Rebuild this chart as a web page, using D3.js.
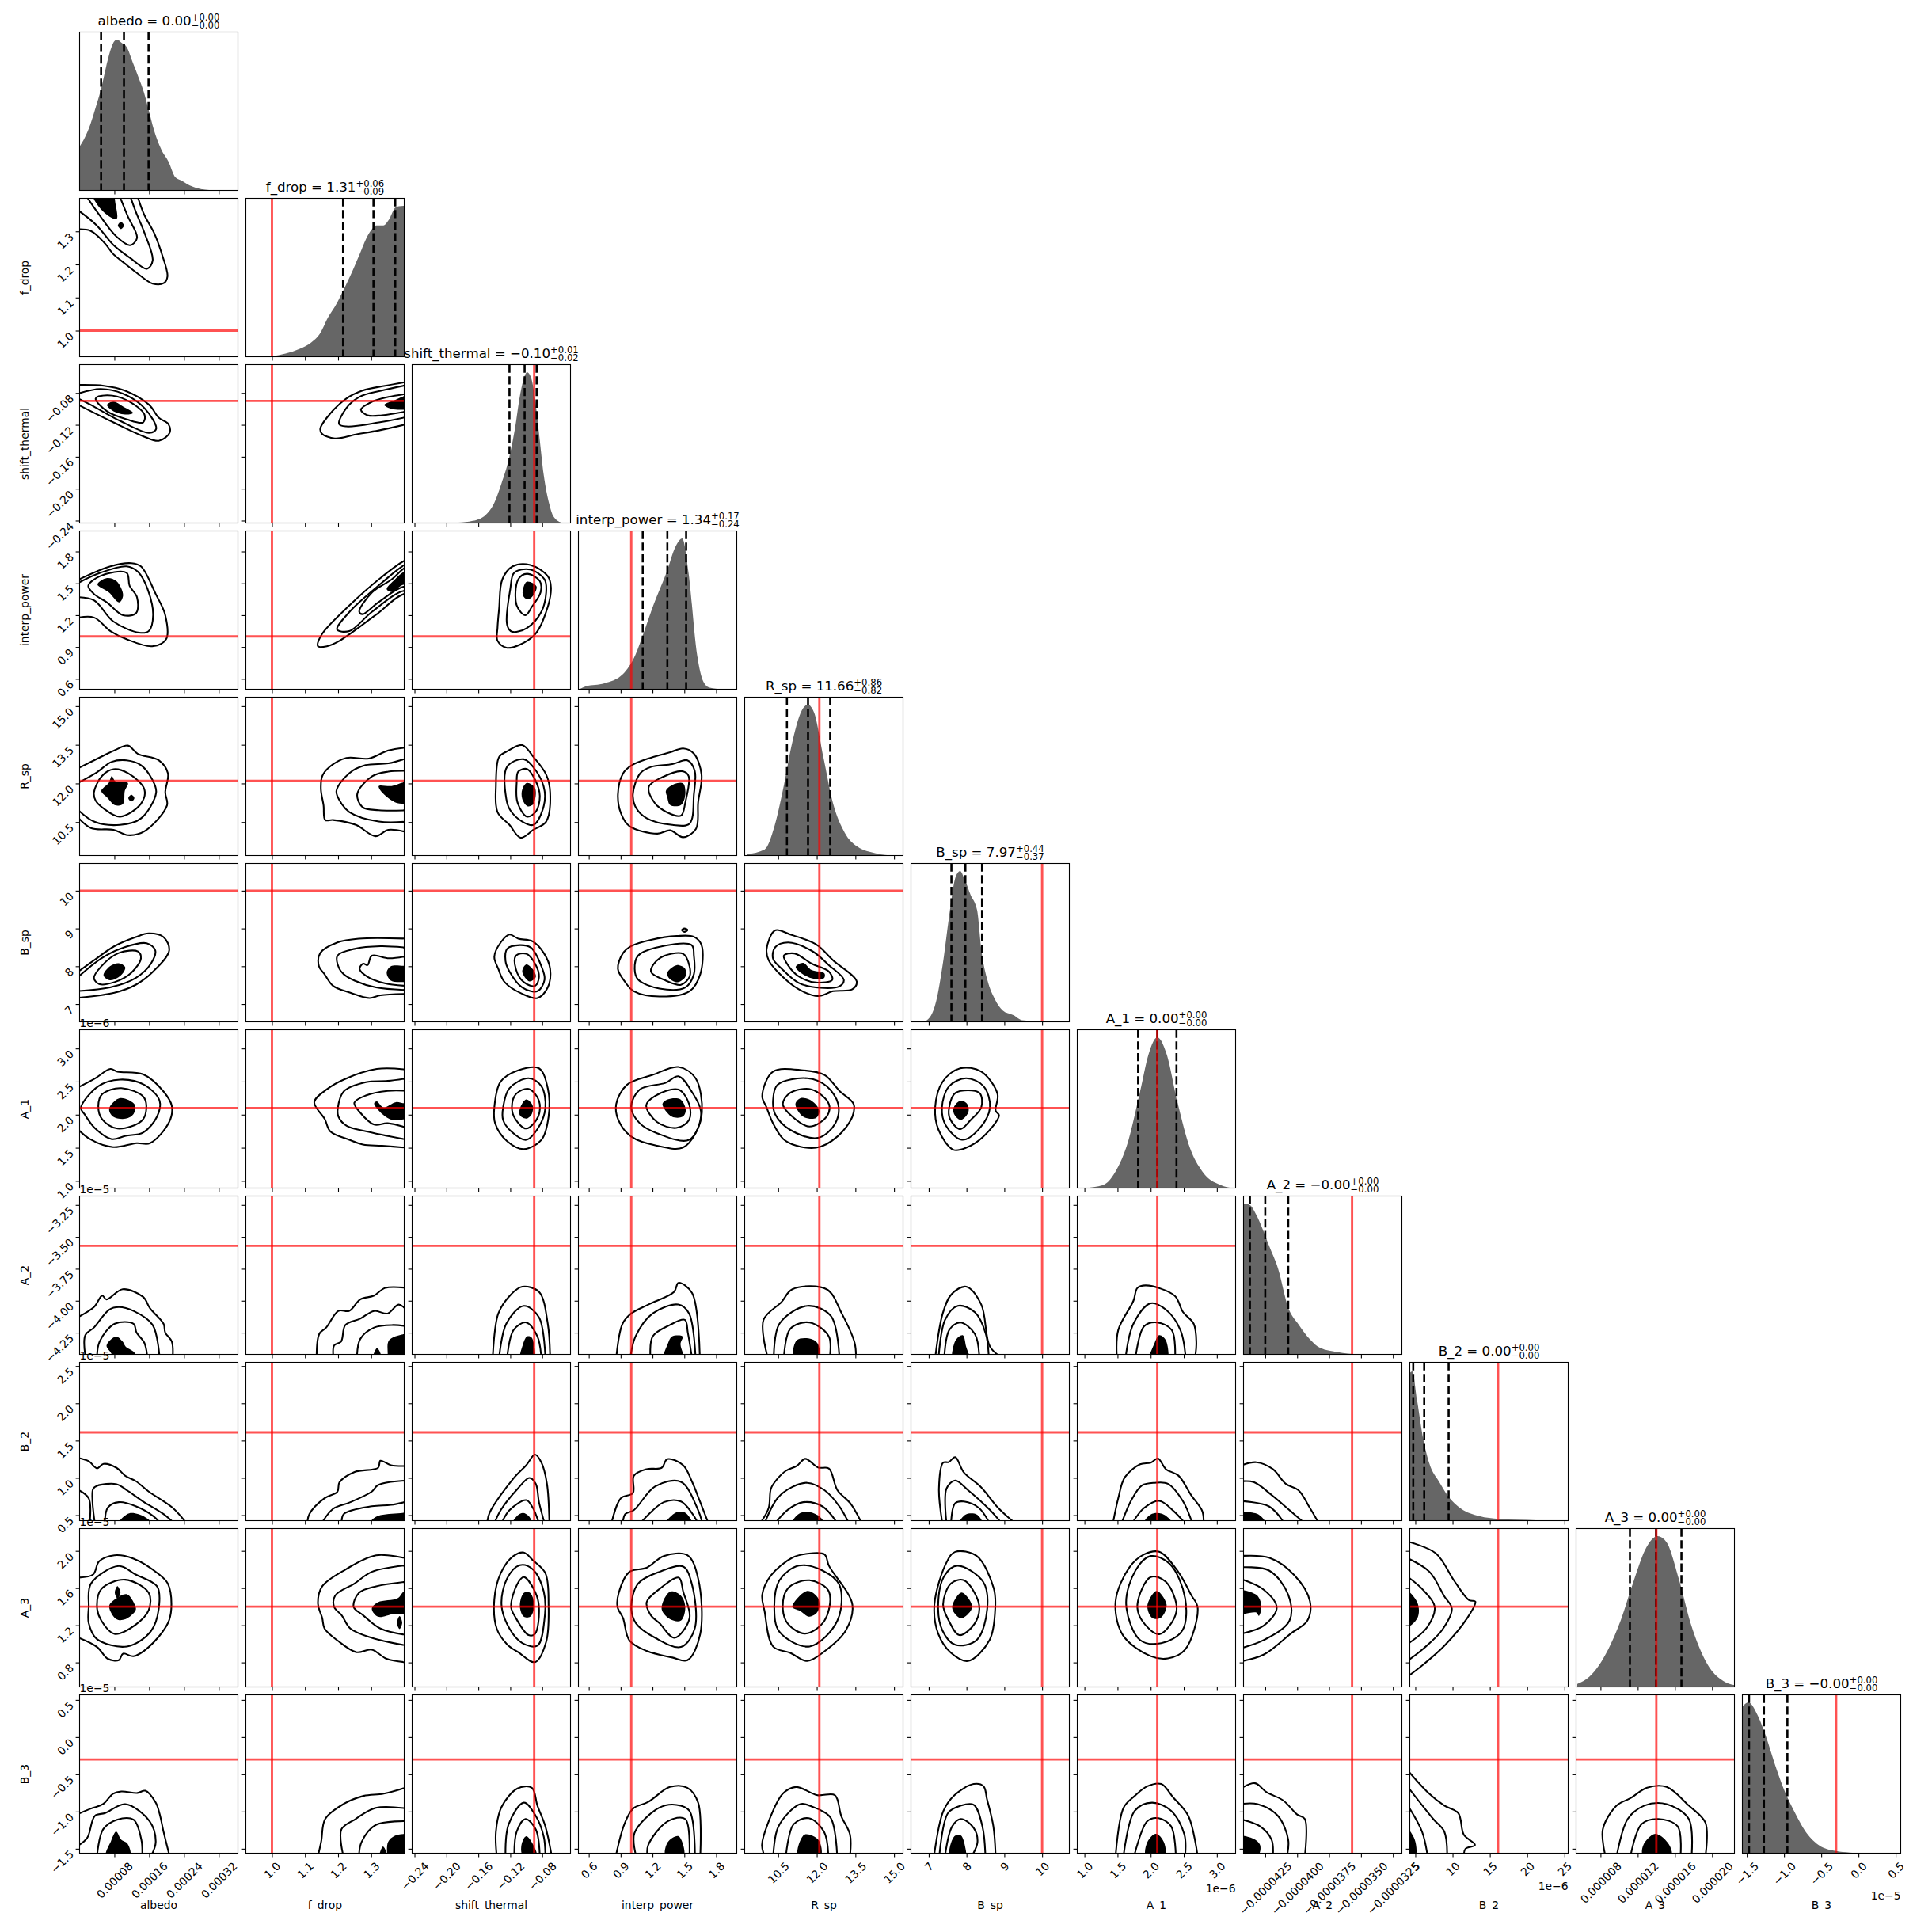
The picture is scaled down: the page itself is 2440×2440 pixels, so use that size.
<!DOCTYPE html>
<html>
<head>
<meta charset="utf-8">
<script src="https://cdn.jsdelivr.net/npm/d3@7"></script>
<style>
  body { margin: 0; background: #fff; }
  text { font-family: "DejaVu Sans", sans-serif; fill: #000; }
</style>
</head>
<body>
<script>
// units: albedo 1e-5, A_1 1e-6, A_2 1e-5, B_2 1e-6, A_3 1e-6, B_3 1e-5
const names = ["albedo", "f_drop", "shift_thermal", "interp_power", "R_sp", "B_sp", "A_1", "A_2", "B_2", "A_3", "B_3"];
const axisLo = [0, 0.921, -0.243, 0.502, 9.2, 6.53, 0.891, -4.42, 4.26, 5.37, -1.56];
const axisHi = [36.4, 1.4, -0.0445, 1.994, 15.35, 10.72, 3.283, -3.18, 25.5, 22.4, 0.568];
const truth = [null, 1.0, -0.09, 1.0, 12.1, 10, 2.1, -3.57, 16.1, 14, -0.3];

const tickVals = [
  [8, 16, 24, 32], [1.0, 1.1, 1.2, 1.3], [-0.24, -0.2, -0.16, -0.12, -0.08], [0.6, 0.9, 1.2, 1.5, 1.8],
  [10.5, 12, 13.5, 15], [7, 8, 9, 10], [1, 1.5, 2, 2.5, 3], [-4.25, -4, -3.75, -3.5, -3.25],
  [5, 10, 15, 20, 25], [8, 12, 16, 20], [-1.5, -1, -0.5, 0, 0.5]
];
const xTickText = [
  ["0.00008", "0.00016", "0.00024", "0.00032"], ["1.0", "1.1", "1.2", "1.3"],
  ["−0.24", "−0.20", "−0.16", "−0.12", "−0.08"], ["0.6", "0.9", "1.2", "1.5", "1.8"],
  ["10.5", "12.0", "13.5", "15.0"], ["7", "8", "9", "10"], ["1.0", "1.5", "2.0", "2.5", "3.0"],
  ["−0.0000425", "−0.0000400", "−0.0000375", "−0.0000350", "−0.0000325"],
  ["5", "10", "15", "20", "25"], ["0.000008", "0.000012", "0.000016", "0.000020"],
  ["−1.5", "−1.0", "−0.5", "0.0", "0.5"]
];
const yTickText = [
  [], ["1.0", "1.1", "1.2", "1.3"], ["−0.24", "−0.20", "−0.16", "−0.12", "−0.08"], ["0.6", "0.9", "1.2", "1.5", "1.8"],
  ["10.5", "12.0", "13.5", "15.0"], ["7", "8", "9", "10"], ["1.0", "1.5", "2.0", "2.5", "3.0"],
  ["−4.25", "−4.00", "−3.75", "−3.50", "−3.25"], ["0.5", "1.0", "1.5", "2.0", "2.5"],
  ["0.8", "1.2", "1.6", "2.0"], ["−1.5", "−1.0", "−0.5", "0.0", "0.5"]
];
const titleMain = ["albedo = 0.00", "f_drop = 1.31", "shift_thermal = −0.10", "interp_power = 1.34", "R_sp = 11.66", "B_sp = 7.97", "A_1 = 0.00", "A_2 = −0.00", "B_2 = 0.00", "A_3 = 0.00", "B_3 = −0.00"];
const titleUp = ["+0.00", "+0.06", "+0.01", "+0.17", "+0.86", "+0.44", "+0.00", "+0.00", "+0.00", "+0.00", "+0.00"];
const titleDown = ["−0.00", "−0.09", "−0.02", "−0.24", "−0.82", "−0.37", "−0.00", "−0.00", "−0.00", "−0.00", "−0.00"];

// quantile lines on the diagonal
const quantiles = [
  [4.94, 10.2, 15.86], [1.215, 1.307, 1.373], [-0.121, -0.102, -0.087], [1.108, 1.34, 1.517],
  [10.84, 11.66, 12.52], [7.6, 7.97, 8.41], [1.81, 2.1, 2.39], [-4.37, -4.25, -4.07],
  [4.72, 6.19, 9.47], [11.16, 13.97, 16.7], [-1.47, -1.27, -0.955]
];

// marginal density: value, height relative to the peak
const histAlbedo = [0,.29,1.2,.35,2.5,.44,3.8,.56,5,.68,6.1,.82,7.4,.955,8,.99,8.7,1,9.6,.98,10.9,.947,12.2,.85,13.5,.754,14.8,.65,15.8,.544,17.1,.4,18.8,.27,20.4,.193,22,.088,23.3,.067,25.9,.026,27.9,.009,29.8,.002,32.4,0];
const histFdrop = [.99,0,.999,.003,1.041,.021,1.084,.052,1.118,.093,1.144,.149,1.17,.262,1.195,.35,1.215,.437,1.238,.542,1.264,.673,1.29,.804,1.307,.857,1.315,.87,1.337,.87,1.354,.909,1.373,.988,1.384,.997,1.401,1];
const histShift = [-.185,.002,-.167,.014,-.151,.053,-.141,.123,-.131,.263,-.122,.42,-.114,.63,-.108,.84,-.102,.974,-.099,1,-.094,.965,-.089,.825,-.084,.596,-.078,.316,-.071,.123,-.066,.044,-.056,.002];
const histInterp = [.51,0,.572,.02,.747,.04,.92,.1,1.04,.23,1.12,.38,1.21,.56,1.33,.77,1.42,.95,1.48,1,1.54,.77,1.62,.23,1.68,.05,1.74,.01,1.85,0];
const histRsp = [9.3,.01,9.97,.04,10.35,.19,10.69,.44,11.02,.73,11.41,.96,11.65,1,11.89,.95,12.27,.64,12.61,.36,13.09,.15,13.57,.06,14.29,.015,15,0];
const histBsp = [6.86,0,7.03,.03,7.2,.14,7.37,.38,7.54,.7,7.71,.96,7.83,1,7.94,.95,8.11,.84,8.28,.74,8.39,.48,8.56,.27,8.73,.16,8.96,.075,9.25,.043,9.47,.01,9.7,.006,9.93,0];
const histA1 = [1,0,1.28,.02,1.47,.11,1.66,.31,1.84,.64,1.97,.89,2.1,1,2.24,.89,2.41,.56,2.59,.27,2.78,.11,3.06,.02,3.24,0];
const histA2 = [-4.42,1,-4.37,.99,-4.32,.925,-4.27,.83,-4.22,.72,-4.15,.57,-4.07,.31,-3.99,.2,-3.9,.1,-3.82,.043,-3.68,.015,-3.53,.002,-3.42,0];
const histB2 = [4.26,.98,4.6,.99,5.23,.8,6.07,.54,6.91,.375,8.17,.26,9.43,.16,11.12,.08,13.6,.03,16.2,.012,21.2,.003,22.9,0];
const histA3 = [5.5,.02,6.83,.07,8.83,.25,10.16,.44,11.5,.69,12.8,.91,14.15,1,15.1,.96,16.4,.72,17.7,.42,19.5,.15,21.2,.04,22.4,.012];
const histB3 = [-1.56,.97,-1.48,1,-1.35,.91,-1.24,.77,-1.13,.6,-1.015,.44,-.865,.28,-.68,.123,-.53,.053,-.305,.014,-.12,.004,.03,0];
const hists = [histAlbedo, histFdrop, histShift, histInterp, histRsp, histBsp, histA1, histA2, histB2, histA3, histB3];

// contours per panel, x,y,x,y in the units of the two parameters: [lines, filled blobs]
const r1c0 = [[[-1,1.306,2.5,1.302,5.8,1.264,7.7,1.232,10.3,1.204,13,1.176,16.8,1.142,19.4,1.144,20.2,1.164,19,1.228,17.1,1.296,14.8,1.352,13,1.42],
 [-1,1.37,3.8,1.32,7.7,1.26,11.6,1.22,15.5,1.187,16.8,1.212,14.9,1.296,12.9,1.36,11.3,1.42],
 [.9,1.42,4.2,1.356,8.5,1.284,11.6,1.258,13.2,1.28,11,1.348,8.8,1.42]],
 [[2.5,1.45,3.2,1.4,6.1,1.352,8.5,1.338,8.1,1.4,8.1,1.45],[8.8,1.318,9.5,1.329,10.2,1.318,9.5,1.307]]];
const r2c0 = [[[-1,-.07,5.6,-.071,10.4,-.077,16,-.095,18.2,-.111,20.4,-.119,20.7,-.13,18.2,-.14,14.5,-.134,7.8,-.117,-1,-.093],
 [-1,-.082,4.8,-.075,10,-.081,14.9,-.099,17.6,-.125,16,-.13,9.3,-.115,2.6,-.095,-1,-.085],
 [3.7,-.087,6.3,-.083,10.8,-.089,14.9,-.107,14.6,-.117,10.8,-.113,6.3,-.103]],
 [[6.3,-.095,7.8,-.091,10,-.097,12.3,-.105,10.8,-.107,7.8,-.103]]];
const r2c1 = [[[1.41,-.119,1.323,-.127,1.254,-.132,1.19,-.137,1.151,-.131,1.146,-.125,1.166,-.111,1.225,-.087,1.274,-.077,1.342,-.071,1.41,-.066],
 [1.41,-.11,1.323,-.117,1.225,-.122,1.203,-.119,1.225,-.099,1.264,-.085,1.332,-.077,1.41,-.07],
 [1.41,-.103,1.333,-.108,1.289,-.108,1.269,-.101,1.303,-.091,1.352,-.085,1.41,-.081]],
 [[1.34,-.095,1.372,-.089,1.401,-.084,1.45,-.084,1.45,-.1,1.401,-.101,1.362,-.1]]];
const r3c0 = [[[-1,1.172,3.3,1.178,7.1,1.05,10.8,.974,16.7,.907,19.9,.974,19.7,1.2,17.5,1.4,14.1,1.66,11.9,1.69,7.1,1.66,-1,1.52],
 [-1,1.37,3.3,1.34,7.8,1.14,13.7,1.035,15.9,1.05,16.9,1.2,15.6,1.45,13.4,1.61,10.8,1.66,4.8,1.6,-1,1.49],
 [2,1.476,4.8,1.57,10.8,1.6,11.5,1.476,13.2,1.37,13,1.22,10,1.2,6.3,1.32,3.3,1.4]],
 [[4.1,1.49,6.3,1.55,8.5,1.52,10,1.39,9.1,1.32,6.7,1.415]]];
const r3c1 = [[[1.139,.907,1.151,1.02,1.235,1.294,1.323,1.537,1.401,1.714,1.45,1.77,1.45,1.36,1.401,1.4,1.313,1.2,1.205,.96,1.166,.907],
 [1.197,1.065,1.235,1.233,1.333,1.507,1.401,1.674,1.45,1.73,1.45,1.38,1.401,1.43,1.303,1.233,1.234,1.05],
 [1.264,1.233,1.303,1.415,1.362,1.537,1.401,1.644,1.45,1.7,1.45,1.42,1.401,1.47,1.323,1.324,1.274,1.21]],
 [[1.347,1.446,1.372,1.537,1.401,1.613,1.45,1.66,1.45,1.46,1.401,1.49,1.362,1.42]]];
const r3c2 = [[[-.136,1.08,-.134,1.263,-.13,1.537,-.117,1.66,-.095,1.674,-.073,1.568,-.069,1.461,-.075,1.233,-.091,1.004,-.124,.892,-.136,.96],
 [-.124,1.11,-.12,1.446,-.115,1.6,-.095,1.63,-.077,1.537,-.075,1.415,-.081,1.233,-.099,1.08,-.118,1.044],
 [-.112,1.294,-.11,1.537,-.099,1.59,-.083,1.522,-.082,1.415,-.093,1.278,-.101,1.2]],
 [[-.104,1.446,-.099,1.516,-.087,1.47,-.093,1.37,-.099,1.35,-.104,1.385]]];
const r4c0 = [[[-1,12.53,5.6,13.09,8.2,13.3,11.1,13.47,13.4,13.15,18.2,12.9,20.3,12.4,19.7,11.65,20.1,11.15,14.9,10.14,11.1,9.99,7.8,10.2,2.6,10.27,-1,10.8],
 [-1,11.08,3.3,10.52,9.3,10.39,14.1,10.64,17.6,11.65,16.7,12.15,14.1,12.71,10.8,12.9,7.4,12.84,3.7,12.4,-1,11.96],
 [3.3,11.65,5.2,12.3,7.8,12.55,11.1,12.4,14.9,11.77,14.1,11.21,9.3,10.71,5.6,11.02,3.7,11.33]],
 [[5,11.71,6.7,12.02,7.4,12.28,8.2,12.09,11.1,12.02,10.4,11.71,10,11.21,8.2,11.15,6.3,11.46],[11.2,11.43,11.9,11.56,12.6,11.43,11.9,11.3]]];
const r4c1 = [[[1.41,10.1,1.352,10.2,1.313,9.95,1.254,10.39,1.185,10.58,1.161,10.58,1.156,11.15,1.148,11.77,1.152,12.28,1.175,12.65,1.225,12.99,1.293,12.97,1.352,13.28,1.41,13.4],
 [1.41,10.52,1.323,10.52,1.234,10.89,1.205,11.33,1.195,11.71,1.234,12.4,1.283,12.71,1.352,12.78,1.41,12.99],
 [1.41,10.96,1.323,10.96,1.274,11.08,1.258,11.59,1.303,12.28,1.352,12.46,1.41,12.49]],
 [[1.323,11.9,1.362,11.9,1.401,12.05,1.45,12.05,1.45,11.2,1.401,11.21,1.372,11.27,1.333,11.65]]];
const r4c2 = [[[-.138,11.9,-.134,13.03,-.124,13.25,-.105,13.49,-.091,13.03,-.075,12.34,-.07,11.65,-.075,10.52,-.091,10.2,-.107,9.89,-.121,10.39,-.136,10.89],
 [-.125,11.4,-.124,12.65,-.103,12.94,-.087,12.46,-.077,11.71,-.079,11.02,-.091,10.39,-.105,10.52,-.12,10.96],
 [-.112,12.02,-.11,12.46,-.099,12.56,-.089,12.15,-.083,11.52,-.088,10.9,-.099,10.71,-.111,11.27]],
 [[-.105,11.77,-.099,12.02,-.089,11.83,-.091,11.21,-.098,11.11,-.105,11.4]]];
const r4c3 = [[[.874,11.57,.923,12.39,1.003,12.7,1.185,13,1.367,13.21,1.489,13.36,1.59,13.16,1.662,12.34,1.63,11.26,1.61,10.24,1.489,9.91,1.367,10.18,1.246,10.05,.983,10.34,.902,10.85],
 [1.015,11.57,1.084,12.39,1.185,12.64,1.387,12.75,1.529,12.9,1.598,12.49,1.59,11.57,1.549,10.44,1.387,10.39,1.145,10.65,1.044,11.06],
 [1.165,11.87,1.286,12.23,1.489,12.47,1.541,12.28,1.509,11.26,1.468,10.75,1.327,10.9,1.218,11.26]],
 [[1.327,11.72,1.408,11.98,1.489,12,1.509,11.57,1.468,11.16,1.367,11.16,1.339,11.47]]];
const r5c0 = [[[-1,7.16,8,7.3,12.9,7.51,16.9,7.86,20.6,8.42,19.3,8.77,15.9,8.87,12.9,8.77,8,8.53,3.1,8.14,-1,7.8],
 [-1,7.34,7,7.44,12.9,7.69,16.4,8.07,17.4,8.42,15.4,8.61,10,8.49,5,8.21,-1,7.65],
 [3.3,7.69,5,8,9,8.35,13.4,8.39,14.1,8.21,11.9,7.83,8,7.58,4.5,7.53]],
 [[5.5,7.76,7,8,9,8.08,10.5,7.97,9.5,7.76,7,7.63]]];
const r5c1 = [[[1.41,7.27,1.328,7.23,1.295,7.16,1.237,7.3,1.185,7.48,1.159,7.79,1.142,8,1.146,8.35,1.198,8.63,1.263,8.73,1.41,8.73],
 [1.41,8.49,1.328,8.53,1.25,8.46,1.198,8.28,1.204,7.93,1.217,7.79,1.25,7.62,1.315,7.44,1.41,7.37],
 [1.41,8.27,1.354,8.21,1.302,8.28,1.289,8.03,1.276,8.07,1.265,7.93,1.289,7.72,1.341,7.55,1.41,7.48]],
 [[1.347,7.83,1.36,8,1.401,8.01,1.45,8.01,1.45,7.58,1.401,7.58,1.36,7.62]]];
const r5c2 = [[[-.14,8.25,-.132,8.63,-.121,8.84,-.11,8.73,-.092,8.66,-.078,8.35,-.07,7.93,-.073,7.44,-.086,7.16,-.105,7.27,-.127,7.58,-.135,7.93],
 [-.126,8.14,-.124,8.46,-.108,8.56,-.094,8.49,-.081,8,-.077,7.65,-.086,7.34,-.105,7.44,-.121,7.86],
 [-.113,7.93,-.113,8.28,-.1,8.33,-.089,8.07,-.084,7.72,-.089,7.48,-.103,7.58]],
 [[-.105,7.86,-.1,8.05,-.092,7.93,-.088,7.72,-.096,7.6]]];
const r5c3 = [[[.874,7.93,.923,8.35,1.003,8.54,1.185,8.7,1.428,8.8,1.59,8.78,1.662,8.56,1.65,7.79,1.549,7.34,1.266,7.2,1.024,7.34,.943,7.58],
 [1.032,7.93,1.064,8.28,1.226,8.49,1.569,8.56,1.59,8.28,1.59,7.79,1.509,7.44,1.266,7.41,1.064,7.65],
 [1.185,7.86,1.266,8.21,1.489,8.33,1.549,8,1.549,7.72,1.468,7.51,1.327,7.62],
 [1.477,8.96,1.5,9,1.53,8.96,1.5,8.91]],
 [[1.339,7.83,1.428,8.03,1.509,7.93,1.509,7.72,1.436,7.58,1.355,7.69]]];
const r5c4 = [[[10.05,8.45,10.38,8.95,10.97,8.84,11.97,8.58,12.63,8.16,13.55,7.6,13.38,7.39,12.63,7.34,12.05,7.21,11.3,7.39,10.47,7.86,10.13,8.16],
 [10.38,8.5,10.88,8.63,11.8,8.41,12.47,8.03,13.05,7.64,12.88,7.47,12.13,7.43,11.3,7.56,10.63,7.94,10.3,8.2],
 [10.72,8.28,11.13,8.34,11.8,8.07,12.47,7.86,12.6,7.64,11.97,7.57,11.3,7.73,10.88,8.03]],
 [[11.18,7.98,11.47,8.09,11.8,7.9,12.3,7.81,12.27,7.68,11.72,7.7]]];
const r6c0 = [[[-1,2.39,3.6,2.55,7.1,2.69,8.7,2.65,14.6,2.61,19.3,2.35,21.2,2.13,20.6,1.89,16.2,1.57,13.1,1.57,7.7,1.51,2.4,1.63,-1,1.82],
 [.3,2.1,4.3,2.43,9.3,2.53,14.9,2.45,18.4,2.21,17.8,1.97,14.6,1.73,10.6,1.68,7.4,1.63,3.6,1.79,1.1,2.01],
 [4.3,2.13,5.2,2.31,9.6,2.4,14.9,2.25,14.6,1.93,8.7,1.79,5.2,1.93]],
 [[6.8,2.09,9.3,2.25,12.7,2.15,12.4,2.01,10.6,1.94,7.7,1.97]]];
const r6c1 = [[[1.41,1.5,1.333,1.53,1.275,1.55,1.234,1.62,1.176,1.75,1.16,1.93,1.128,2.19,1.168,2.39,1.217,2.53,1.317,2.69,1.41,2.68],
 [1.41,1.62,1.284,1.75,1.226,1.83,1.201,1.97,1.199,2.09,1.217,2.35,1.284,2.49,1.35,2.51,1.41,2.55],
 [1.41,1.8,1.35,1.87,1.309,1.85,1.267,2.03,1.249,2.18,1.284,2.29,1.35,2.36,1.41,2.36]],
 [[1.309,2.17,1.317,2.2,1.337,2.11,1.375,2.19,1.401,2.17,1.45,2.17,1.45,1.93,1.401,1.93,1.358,1.93,1.325,2.05]]];
const r6c2 = [[[-.14,2.11,-.132,2.5,-.11,2.67,-.084,2.7,-.073,2.4,-.072,1.97,-.081,1.62,-.103,1.48,-.124,1.6,-.139,1.87],
 [-.129,2.11,-.121,2.4,-.097,2.55,-.081,2.43,-.076,2.11,-.084,1.82,-.1,1.62,-.119,1.75,-.129,1.92],
 [-.118,2.11,-.113,2.31,-.097,2.39,-.084,2.21,-.085,1.97,-.1,1.79,-.114,1.94]],
 [[-.108,2.09,-.1,2.23,-.092,2.14,-.093,2.01,-.1,1.94,-.108,1.99]]];
const r6c3 = [[[.858,2.16,.959,2.45,1.201,2.6,1.444,2.72,1.606,2.55,1.666,2.04,1.606,1.72,1.484,1.5,1.242,1.53,.999,1.67,.878,1.92],
 [.999,2.11,1.08,2.38,1.323,2.48,1.444,2.58,1.565,2.36,1.658,2.01,1.545,1.62,1.242,1.72,1.08,1.87],
 [1.141,2.14,1.222,2.28,1.444,2.38,1.545,2.16,1.545,1.92,1.424,1.8,1.242,1.89]],
 [[1.294,2.16,1.343,2.23,1.464,2.23,1.513,2.06,1.484,1.97,1.383,1.97]]];
const r6c4 = [[[9.88,2.28,10.3,2.65,11.47,2.67,12.3,2.6,12.88,2.36,13.43,2.16,13.38,1.97,12.8,1.67,11.97,1.5,10.8,1.6,10.3,1.87,10.05,2.11],
 [10.3,2.21,10.47,2.45,11.63,2.55,12.38,2.43,12.83,2.16,12.72,1.87,12.05,1.65,10.97,1.77,10.38,2.01],
 [10.68,2.16,10.97,2.33,11.8,2.38,12.47,2.16,12.38,1.97,11.72,1.82,11.05,1.97]],
 [[11.17,2.16,11.38,2.25,11.8,2.21,12.1,2.06,11.97,1.95,11.47,1.97]]];
const r6c5 = [[[7.17,2.11,7.37,2.5,7.83,2.7,8.39,2.65,8.82,2.31,8.77,2.06,8.86,1.99,8.45,1.67,7.99,1.5,7.65,1.47,7.26,1.77],
 [7.35,2.11,7.54,2.43,7.99,2.55,8.45,2.43,8.62,2.11,8.34,1.79,7.88,1.62,7.45,1.84],
 [7.54,2.11,7.71,2.33,8.34,2.33,8.39,2.11,8.11,1.92,7.83,1.78,7.56,1.94]],
 [[7.65,2.09,7.83,2.21,8.02,2.16,8.05,2.04,7.85,1.92,7.69,1.99]]];
const r7c0 = [[[-1,-4.14,3.3,-4.05,5.2,-3.96,6.2,-3.99,9.9,-3.91,14.6,-3.97,16.2,-4.06,19.3,-4.18,19.7,-4.25,21.2,-4.32,21.4,-4.45],
 [1.4,-4.45,1.3,-4.27,3.3,-4.21,6.8,-4.07,9,-4.05,12.4,-4.08,16.8,-4.19,18.4,-4.45],
 [4,-4.45,4.6,-4.32,8.1,-4.18,12.4,-4.18,13.1,-4.25,14.9,-4.33,15.6,-4.45]],
 [[6.2,-4.35,8.4,-4.28,9.9,-4.32,10.6,-4.36,12.7,-4.41,12.8,-4.5,7.6,-4.5,7.4,-4.42]]];
const r7c1 = [[[1.135,-4.45,1.143,-4.26,1.164,-4.21,1.201,-4.08,1.234,-4.08,1.267,-3.99,1.309,-3.96,1.342,-3.9,1.41,-3.9],
 [1.186,-4.45,1.188,-4.35,1.209,-4.32,1.222,-4.19,1.267,-4.14,1.309,-4.08,1.35,-4.1,1.383,-4.03,1.41,-4.08],
 [1.257,-4.45,1.267,-4.3,1.309,-4.21,1.366,-4.19,1.41,-4.2]],
 [[1.35,-4.42,1.354,-4.31,1.401,-4.26,1.45,-4.26,1.45,-4.5,1.35,-4.5],[1.304,-4.45,1.318,-4.37,1.333,-4.45,1.333,-4.5,1.304,-4.5]]];
const r7c2 = [[[-.142,-4.45,-.135,-4.1,-.119,-3.95,-.105,-3.89,-.084,-3.93,-.073,-4.18,-.07,-4.45],
 [-.134,-4.45,-.125,-4.18,-.103,-4.04,-.084,-4.13,-.076,-4.45],
 [-.124,-4.45,-.116,-4.23,-.1,-4.17,-.086,-4.28,-.081,-4.45]],
 [[-.108,-4.5,-.104,-4.34,-.099,-4.28,-.093,-4.29,-.091,-4.5]]];
const r7c3 = [[[.858,-4.45,.918,-4.18,.999,-4.1,1.161,-4.03,1.404,-3.93,1.444,-3.86,1.573,-3.94,1.646,-4.45],
 [.991,-4.45,1.04,-4.28,1.201,-4.1,1.444,-4.03,1.545,-4.1,1.606,-4.45],
 [1.181,-4.45,1.201,-4.28,1.363,-4.19,1.505,-4.15,1.533,-4.25,1.573,-4.45]],
 [[1.294,-4.5,1.343,-4.34,1.383,-4.28,1.484,-4.28,1.464,-4.34,1.505,-4.5]]];
const r7c4 = [[[10.1,-4.45,9.93,-4.15,10.63,-4.01,11.05,-3.91,12.38,-3.91,12.97,-4.1,13.47,-4.33,13.52,-4.45],
 [10.33,-4.45,10.55,-4.18,11.63,-4.04,12.55,-4.12,12.88,-4.45],
 [10.72,-4.45,10.97,-4.22,11.72,-4.17,12.47,-4.28,12.5,-4.45]],
 [[11.13,-4.5,11.22,-4.31,11.8,-4.3,12.05,-4.34,12.05,-4.5]]];
const r7c5 = [[[7.17,-4.45,7.37,-4.1,7.6,-3.95,7.99,-3.89,8.39,-4.03,8.62,-4.36,8.96,-4.45],
 [7.26,-4.45,7.43,-4.15,7.77,-4.04,8.22,-4.09,8.51,-4.26,8.59,-4.45],
 [7.41,-4.45,7.54,-4.23,7.83,-4.17,8.22,-4.26,8.34,-4.45]],
 [[7.65,-4.5,7.71,-4.31,7.9,-4.27,7.99,-4.36,8.11,-4.5]]];
const r7c6 = [[[1.49,-4.45,1.51,-4.23,1.74,-4,1.8,-3.9,1.93,-3.88,2.36,-3.96,2.49,-4.09,2.65,-4.18,2.69,-4.33,2.67,-4.45],
 [1.62,-4.45,1.74,-4.18,2,-4.02,2.23,-4.07,2.45,-4.23,2.53,-4.45],
 [1.77,-4.45,1.9,-4.2,2.1,-4.17,2.32,-4.23,2.37,-4.45]],
 [[1.97,-4.5,2.06,-4.33,2.13,-4.27,2.23,-4.31,2.24,-4.5]]];
const r8c0 = [[[-1,12.77,2.1,12.23,4,11.28,5.5,11.88,8.5,11.35,10.5,10.28,12.9,9.57,15.9,8.16,21.3,6.03,24.6,3.9],
 [3.5,3.9,3.1,8.51,4,8.94,8.5,9.15,10.9,8.33,14.4,6.91,19.3,5.14,21.8,3.9],
 [5.8,3.9,6.5,6.03,9,6.74,12.9,6.2,16.9,4.89,18.6,3.9],
 [-1,8.58,2.1,7.26,2.3,3.9]],
 [[9,3.9,11.4,5.25,14.9,4.8,16.5,3.9]]];
const r8c1 = [[[1.107,3.9,1.113,5.14,1.159,7.27,1.198,8.16,1.204,9.4,1.25,10.8,1.321,11.35,1.328,12.3,1.36,11.7,1.41,11.6],
 [1.15,3.9,1.185,5.85,1.237,6.74,1.302,8.16,1.321,9.04,1.41,9.65],
 [1.211,3.9,1.217,5.14,1.302,6.2,1.36,6.38,1.41,6.84]],
 [[1.295,3.9,1.315,4.8,1.38,5.25,1.45,5.21,1.45,3.5,1.295,3.5]]];
const r8c2 = [[[-.149,3.9,-.146,5.3,-.116,9.93,-.1,11.7,-.089,13.12,-.081,12.06,-.074,9.2,-.071,3.9],
 [-.14,3.9,-.132,5.67,-.111,8.51,-.096,10,-.088,9.2,-.084,6.74,-.077,3.9],
 [-.131,3.9,-.121,5.67,-.1,7.02,-.092,6.03,-.084,3.9]],
 [[-.117,3.9,-.111,4.96,-.104,5.3,-.097,4.89,-.093,3.9]]];
const r8c3 = [[[.813,3.9,.902,7.27,1.016,7.98,1.024,10.28,1.145,11.17,1.286,11.35,1.339,12.52,1.489,11.7,1.57,9.57,1.65,6.74,1.727,3.9],
 [.92,3.9,.943,5.14,1.024,5.67,1.226,8.87,1.468,9.47,1.63,5.67,1.67,3.9],
 [1.084,3.9,1.306,6.74,1.468,6.84,1.57,5.32,1.63,3.9]],
 [[1.327,3.9,1.428,5.39,1.509,5.32,1.57,3.9]]];
const r8c4 = [[[9.8,3.9,10.13,5.96,10.22,8.56,10.47,9.87,10.8,10.95,11.22,11.6,11.55,12.56,12.05,11.39,12.47,11.25,12.8,8.35,13.3,6.6,13.75,3.9],
 [9.97,3.9,10.47,7.26,11.05,8.78,11.63,9.34,12.3,8.35,12.88,6.17,13.25,3.9],
 [10.38,3.9,10.88,5.74,11.47,6.74,12.22,6.17,12.8,3.9]],
 [[11.05,3.9,11.3,5.17,11.72,5.39,12.13,4.74,12.27,3.9]]];
const r8c5 = [[[7.36,3.9,7.27,8.56,7.38,12.04,7.53,12.12,7.7,12.78,7.93,10.73,8.38,8.78,8.84,5.96,9.29,3.9],
 [7.47,3.9,7.47,8.56,7.7,9.65,8.04,8.35,8.61,5.74,8.93,3.9],
 [7.59,3.9,7.7,6.6,7.93,6.83,8.33,5.96,8.61,3.9]],
 [[7.81,3.9,7.98,5.09,8.27,5.09,8.42,3.9]]];
const r8c6 = [[[1.43,3.9,1.51,7.26,1.61,10.08,1.84,11.82,2,12.04,2.11,12.6,2.23,11.17,2.42,10.3,2.61,7.7,2.78,5.52,2.8,3.9],
 [1.56,3.9,1.71,7.04,1.87,8.99,2.06,9.34,2.26,9.21,2.49,6.83,2.63,3.9],
 [1.72,3.9,1.9,5.96,2.13,6.91,2.35,5.52,2.52,3.9]],
 [[1.9,3.9,2,5.09,2.16,5.22,2.29,4.44,2.32,3.9]]];
const r8c7 = [[[-4.45,11.6,-4.32,12.1,-4.19,11.17,-4.09,9.21,-3.99,8.35,-3.9,5.96,-3.83,3.9],
 [-4.45,9.52,-4.34,9.43,-4.2,7.7,-4.05,5.52,-3.94,3.9],
 [-4.45,6.91,-4.22,6.17,-4.1,3.9]],
 [[-4.5,5.09,-4.31,5.17,-4.25,3.9,-4.5,3.9]]];
const r9c0 = [[[-1,17.12,3.1,17.46,4.5,18.88,8,19.53,12.4,19.17,18.3,17.46,20.3,16.47,21.1,13.97,20.3,12.22,15.9,9.66,12.4,8.67,10,8.95,9,8.24,6.5,8.39,4,9.66,-1,10.8],
 [2.1,13.97,2.6,16.47,9,18.37,12.9,17.46,17.8,16.19,18.3,14.2,16.4,11.36,10.9,9.72,4,10.51,2.1,12.22],
 [4,13.97,5,15.9,10.5,16.9,15.9,15.48,15.9,13.63,12.9,12.07,8,11.08,5,12.5]],
 [[6.8,14.06,8.5,14.91,10.9,15.34,12.7,14.2,12.9,13.63,10.5,12.64,8.5,12.64],[8.1,15.5,8.7,16.2,9.4,15.5,8.7,14.9]]];
const r9c1 = [[[1.41,8,1.347,8.39,1.302,9.38,1.256,9.1,1.198,10.37,1.159,11.65,1.152,12.78,1.139,14.34,1.152,16.19,1.224,18.03,1.315,19.53,1.41,19.17],
 [1.41,9.8,1.302,10.65,1.237,11.65,1.211,13.07,1.188,13.97,1.191,15.19,1.25,16.5,1.302,17.75,1.41,18.46],
 [1.41,10.94,1.328,11.65,1.276,13.07,1.247,13.97,1.263,15.48,1.315,16.19,1.41,16.7]],
 [[1.302,13.78,1.321,14.48,1.38,14.91,1.401,15.68,1.45,15.68,1.45,13.21,1.401,13.21,1.367,13.21,1.321,12.92],[1.378,12.27,1.386,13,1.394,12.27,1.386,11.6]]];
const r9c2 = [[[-.14,14.77,-.132,17.6,-.116,19.45,-.103,19.82,-.092,19.02,-.076,17.6,-.072,14.2,-.075,10.23,-.089,8.04,-.11,9.1,-.124,9.95,-.137,11.65],
 [-.131,14.2,-.124,17.04,-.108,18.46,-.092,18.03,-.078,15.62,-.077,12.78,-.086,9.8,-.105,10.09,-.121,11.65],
 [-.119,13.97,-.111,16.47,-.103,17.18,-.089,15.62,-.084,13.92,-.089,11.08,-.097,10.94,-.113,12.78]],
 [[-.108,14.06,-.103,15.48,-.095,15.48,-.09,14.06,-.095,12.92,-.103,12.92]]];
const r9c3 = [[[.87,13.97,.882,15.48,.983,17.75,1.145,18.18,1.306,19.45,1.529,19.53,1.63,17.04,1.65,11.08,1.529,8.24,1.387,8.53,1.145,9.24,.983,10.37,.922,12.78],
 [1,13.97,1.064,16.47,1.266,17.75,1.489,18.31,1.57,16.47,1.598,11.65,1.468,9.66,1.226,10.65,1.044,12.22],
 [1.145,14.48,1.266,15.9,1.448,17.12,1.489,15.62,1.549,12.78,1.408,10.65,1.266,12.22,1.185,13.07]],
 [[1.286,13.78,1.367,15.62,1.468,15.19,1.509,13.92,1.468,12.5,1.367,12.64]]];
const r9c4 = [[[9.88,15.28,10.22,17.36,11.05,19.27,11.63,19.69,12.3,19.62,12.47,18.41,13.38,14.24,13.13,11.46,12.3,9.2,11.63,8.16,10.97,9.03,10.3,9.72,9.97,13.54],
 [10.35,13.89,10.55,16.84,11.3,18.41,12.22,17.89,12.88,16.32,12.8,12.5,11.72,9.72,10.55,11.29],
 [10.68,13.89,10.88,15.97,11.72,16.84,12.47,15.63,12.3,12.5,11.55,11.11,10.88,12.15]],
 [[11.05,13.96,11.63,15.7,12.05,14.93,12.05,13.54,11.72,12.92,11.35,13.54]]];
const r9c5 = [[[7.15,14.24,7.47,18.75,7.7,19.9,8.27,19.45,8.72,15.97,8.76,13.89,8.61,10.42,8.04,8.16,7.59,9.03,7.25,11.11],
 [7.25,14.24,7.42,17.36,7.76,18.41,8.44,16.67,8.55,13.89,8.27,10.42,7.7,9.9,7.36,11.46],
 [7.38,14.24,7.59,16.5,7.93,16.84,8.33,14.24,8.21,12.15,7.81,10.94,7.53,12.5]],
 [[7.62,13.99,7.87,15.52,8.15,13.96,7.87,12.75,7.7,13.2]]];
const r9c6 = [[[1.47,14.59,1.68,18.23,1.9,19.62,2.13,19.9,2.42,17.71,2.61,15.28,2.71,13.89,2.52,9.38,2.26,8.44,2,8.68,1.58,10.94],
 [1.63,14.24,1.77,17.89,2,19.45,2.29,18.58,2.52,14.93,2.48,11.46,2.16,10.07,1.84,10.42],
 [1.8,14.24,2,17.19,2.23,16.67,2.39,13.54,2.13,11.04,1.87,12.5]],
 [[1.95,14.07,2.09,15.7,2.24,14.24,2.16,12.85,2.03,12.75]]];
const r9c7 = [[[-4.45,19.45,-4.22,19.27,-4.02,17.36,-3.9,14.59,-3.92,12.5,-4.05,11.11,-4.26,8.86,-4.45,8.1],
 [-4.45,18.23,-4.22,17.89,-4.07,15.28,-4.06,12.5,-4.26,10.42,-4.45,9.5],
 [-4.45,17.02,-4.26,15.8,-4.16,13.89,-4.26,11.98,-4.45,11.05]],
 [[-4.5,15.7,-4.32,15.28,-4.28,14.07,-4.3,13.02,-4.32,13.37,-4.5,13.27]]];
const r9c8 = [[[4,21,7.75,19.74,10.2,16.8,12.2,14.7,13.05,14.55,11.9,12.7,8.9,9.8,6.1,7.8,4,6.5],
 [4,19.2,6.9,17.75,8.9,15.1,9.9,13.8,8.6,11.5,6.1,9.5,4,8.2],
 [4,17.2,6.1,15.75,7.6,14,6.6,11.8,4,10]],
 [[3.8,15.7,5.3,14.4,5.3,12.8,3.8,11.8]]];
const r10c0 = [[[-1,-1.05,2.6,-.96,5.4,-.9,7.7,-.76,9.6,-.73,13.3,-.75,15.1,-.72,17.5,-.88,18.4,-1.03,19.3,-1.27,20.7,-1.6],
 [-1,-1.48,1.7,-1.36,3.5,-1.06,5.9,-1.02,10.5,-.9,16.1,-1.13,17.5,-1.41,16.4,-1.6],
 [4,-1.6,5.4,-1.24,8.6,-1.11,12.4,-1.11,14.2,-1.38,14.4,-1.6]],
 [[6.1,-1.6,7.2,-1.4,8.4,-1.27,9.6,-1.38,11,-1.43,11.6,-1.6]]];
const r10c1 = [[[1.139,-1.6,1.149,-1.4,1.161,-1.1,1.216,-.9,1.277,-.79,1.338,-.76,1.41,-.67],
 [1.216,-1.6,1.21,-1.24,1.253,-1.1,1.314,-.95,1.41,-.96],
 [1.263,-1.6,1.271,-1.41,1.314,-1.18,1.41,-1.13]],
 [[1.348,-1.6,1.351,-1.41,1.369,-1.33,1.401,-1.3,1.45,-1.3,1.45,-1.7,1.348,-1.7],[1.326,-1.6,1.336,-1.47,1.348,-1.6]]];
const r10c2 = [[[-.137,-1.6,-.138,-1.27,-.131,-.94,-.111,-.69,-.093,-.68,-.086,-.92,-.076,-1.2,-.068,-1.6],
 [-.126,-1.6,-.122,-1.17,-.103,-.88,-.088,-1.06,-.078,-1.34,-.076,-1.6],
 [-.115,-1.6,-.112,-1.27,-.101,-1.1,-.088,-1.24,-.083,-1.6]],
 [[-.104,-1.6,-.106,-1.45,-.1,-1.33,-.091,-1.45,-.087,-1.6]]];
const r10c3 = [[[.854,-1.6,.935,-1.17,1.017,-.96,1.16,-.87,1.364,-.67,1.528,-.68,1.63,-.88,1.65,-1.6],
 [1.046,-1.6,1.03,-1.29,1.262,-.95,1.426,-.91,1.548,-.99,1.6,-1.6],
 [1.152,-1.6,1.16,-1.45,1.344,-1.13,1.508,-1.1,1.548,-1.6]],
 [[1.324,-1.6,1.344,-1.41,1.446,-1.33,1.495,-1.6]]];
const r10c4 = [[[9.97,-1.6,9.87,-1.45,10.09,-1.17,10.68,-.76,11.19,-.67,12.03,-.78,12.7,-.78,12.95,-1.06,13.29,-1.31,13.29,-1.6],
 [10.31,-1.6,10.51,-1.2,11.36,-.9,11.86,-.94,12.53,-1.08,12.79,-1.6],
 [10.8,-1.6,11.1,-1.17,11.69,-1.09,12.28,-1.27,12.45,-1.6]],
 [[11.27,-1.6,11.52,-1.31,12.06,-1.38,12.15,-1.6]]];
const r10c5 = [[[7.14,-1.6,7.39,-.99,7.68,-.78,8.19,-.63,8.45,-.66,8.54,-.83,8.71,-1.2,8.77,-1.6],
 [7.28,-1.6,7.51,-1.02,7.85,-.92,8.19,-.91,8.42,-1.2,8.5,-1.6],
 [7.43,-1.6,7.62,-1.2,7.85,-1.1,8.19,-1.22,8.29,-1.41,8.14,-1.6]],
 [[7.56,-1.6,7.68,-1.33,7.85,-1.32,7.97,-1.49,7.97,-1.6]]];
const r10c6 = [[[1.47,-1.6,1.59,-.95,1.76,-.79,1.95,-.66,2.16,-.63,2.34,-.81,2.57,-1.06,2.71,-1.6],
 [1.59,-1.6,1.76,-.99,2.02,-.88,2.31,-.99,2.51,-1.31,2.52,-1.6],
 [1.75,-1.6,1.95,-1.13,2.12,-1.09,2.31,-1.2,2.38,-1.6]],
 [[1.93,-1.6,1.95,-1.41,2.08,-1.3,2.2,-1.41,2.21,-1.6]]];
const r10c7 = [[[-4.45,-.7,-4.33,-.62,-4.24,-.74,-4.11,-.85,-4,-1.04,-3.94,-1.1,-3.94,-1.6],
 [-4.45,-.9,-4.31,-.9,-4.15,-1.06,-4.07,-1.38,-4.08,-1.6],
 [-4.45,-1.1,-4.29,-1.2,-4.2,-1.38,-4.19,-1.6]],
 [[-4.5,-1.34,-4.35,-1.36,-4.29,-1.45,-4.31,-1.6,-4.5,-1.6]]];
const r10c8 = [[[4,-.45,6.65,-.74,8.89,-.92,10.76,-1.02,11.5,-1.31,13,-1.45,11.73,-1.5,11.5,-1.6],
 [4,-.67,7.4,-1.1,8.89,-1.27,9.27,-1.6],
 [4,-.92,5.9,-1.27,6.65,-1.6]],
 [[3.8,-1.22,4.93,-1.38,5,-1.6,3.8,-1.6]]];
const r10c9 = [[[8.53,-1.6,8.24,-1.24,9.73,-.92,11.22,-.82,13.01,-.68,15.1,-.67,17.49,-.92,19.28,-1.15,19.28,-1.6],
 [9.73,-1.6,10.92,-1.1,12.71,-.92,15.1,-.9,17.49,-1.1,17.79,-1.6],
 [11.22,-1.6,12.41,-1.17,14.2,-1.1,16.3,-1.2,16.6,-1.6]],
 [[12.6,-1.45,13.9,-1.3,15.4,-1.45,15.6,-1.6,12.6,-1.6]]];

const contourGrid = [
  [], [r1c0], [r2c0, r2c1], [r3c0, r3c1, r3c2], [r4c0, r4c1, r4c2, r4c3], [r5c0, r5c1, r5c2, r5c3, r5c4],
  [r6c0, r6c1, r6c2, r6c3, r6c4, r6c5], [r7c0, r7c1, r7c2, r7c3, r7c4, r7c5, r7c6],
  [r8c0, r8c1, r8c2, r8c3, r8c4, r8c5, r8c6, r8c7], [r9c0, r9c1, r9c2, r9c3, r9c4, r9c5, r9c6, r9c7, r9c8],
  [r10c0, r10c1, r10c2, r10c3, r10c4, r10c5, r10c6, r10c7, r10c8, r10c9]
];

// exponents shown beside the axes
const yOffsetText = {6: "1e−6", 7: "1e−5", 8: "1e−5", 9: "1e−5", 10: "1e−5"};
const xOffsetText = {6: ["1e−6", 2390], 8: ["1e−6", 2387], 10: ["1e−5", 2399]};

const size = 200, step = 210, marginLeft = 100.5, marginTop = 40.5;
const redLine = "#ff0000", redAlpha = 0.68;

const svg = d3.select("body").append("svg").attr("width", 2440).attr("height", 2440);

const x = names.map((d, i) => d3.scaleLinear().domain([axisLo[i], axisHi[i]]).range([0, size]));
const y = names.map((d, i) => d3.scaleLinear().domain([axisLo[i], axisHi[i]]).range([size, 0]));
const yHist = d3.scaleLinear().domain([0, 1.05]).range([size, 0]);

const pts = flat => d3.range(0, flat.length, 2).map(k => [flat[k], flat[k + 1]]);

svg.append("clipPath").attr("id", "panelClip")
  .append("rect").attr("width", size).attr("height", size);

function makePanel(r, c) {
  const g = svg.append("g").attr("transform", `translate(${marginLeft + c * step}, ${marginTop + r * step})`);
  const inner = g.append("g").attr("clip-path", "url(#panelClip)");
  return {g, inner};
}

function drawTruth(inner, r, c) {
  if (truth[c] !== null) {
    inner.append("line").attr("x1", x[c](truth[c])).attr("x2", x[c](truth[c]))
      .attr("y1", 0).attr("y2", size)
      .attr("stroke", redLine).attr("stroke-opacity", redAlpha).attr("stroke-width", 2.9);
  }
  if (r !== c && truth[r] !== null) {
    inner.append("line").attr("y1", y[r](truth[r])).attr("y2", y[r](truth[r]))
      .attr("x1", 0).attr("x2", size)
      .attr("stroke", redLine).attr("stroke-opacity", redAlpha).attr("stroke-width", 2.9);
  }
}

function drawAxes(g, r, c) {
  const bottom = d3.axisBottom(x[c]).tickValues(tickVals[c]).tickSizeOuter(0).tickSize(4.9);
  if (r === names.length - 1) bottom.tickFormat((d, k) => xTickText[c][k]);
  else bottom.tickFormat("");
  const gx = g.append("g").attr("transform", `translate(0, ${size})`).call(bottom);
  gx.select(".domain").remove();
  gx.selectAll(".tick line").attr("stroke-width", 1.1);
  gx.selectAll("text").attr("font-size", 13.9).attr("y", 0).attr("dy", "0.35em")
    .attr("text-anchor", "middle")
    .attr("transform", function() {
      const w = this.getComputedTextLength();
      return `translate(0, ${10 + (w + 11) * 0.707 / 2}) rotate(-45)`;
    });

  if (r !== c) {
    const lft = d3.axisLeft(y[r]).tickValues(tickVals[r]).tickSizeOuter(0).tickSize(4.9);
    if (c === 0) lft.tickFormat((d, k) => yTickText[r][k]);
    else lft.tickFormat("");
    const gy = g.append("g").call(lft);
    gy.select(".domain").remove();
    gy.selectAll(".tick line").attr("stroke-width", 1.1);
    gy.selectAll("text").attr("font-size", 13.9).attr("x", 0).attr("dy", "0.35em")
      .attr("text-anchor", "end")
      .attr("transform", "translate(-10, 4) rotate(-45)");
  }

  g.append("rect").attr("width", size).attr("height", size)
    .attr("fill", "none").attr("stroke", "#000").attr("stroke-width", 1.1);
}

// diagonal: marginal histograms
names.forEach((name, i) => {
  const {g, inner} = makePanel(i, i);
  const area = d3.area().curve(d3.curveMonotoneX).x(d => x[i](d[0])).y0(size).y1(d => yHist(d[1]));
  const points = pts(hists[i]);
  inner.append("path").attr("d", area(points)).attr("fill", "#000").attr("fill-opacity", 0.6);
  quantiles[i].forEach(q => {
    inner.append("line").attr("x1", x[i](q)).attr("x2", x[i](q)).attr("y1", 0).attr("y2", size)
      .attr("stroke", "#000").attr("stroke-width", 2.6).attr("stroke-dasharray", "10.3 4.4");
  });
  drawTruth(inner, i, i);
  drawAxes(g, i, i);

  // title with the up and down errors set as small stacked text
  const title = g.append("g").attr("transform", "translate(0, -9)");
  const main = title.append("text").attr("font-size", 16.67).text(titleMain[i]);
  const up = title.append("text").attr("font-size", 11.67).attr("y", -6).text(titleUp[i]);
  const down = title.append("text").attr("font-size", 11.67).attr("y", 4).text(titleDown[i]);
  const mainW = main.node().getComputedTextLength();
  const total = mainW + Math.max(up.node().getComputedTextLength(), down.node().getComputedTextLength());
  const start = (size - total) / 2;
  main.attr("x", start);
  up.attr("x", start + mainW);
  down.attr("x", start + mainW);
});

// lower triangle: contours
const lineClosed = d3.line().curve(d3.curveCatmullRomClosed.alpha(0.5));
const lineOpen = d3.line().curve(d3.curveCatmullRom.alpha(0.5));

contourGrid.forEach((row, r) => {
  row.forEach((panel, c) => {
    const {g, inner} = makePanel(r, c);
    const toXY = flat => pts(flat).map(p => [x[c](p[0]), y[r](p[1])]);
    const outside = p => p[0] < 0 || p[0] > size || p[1] < 0 || p[1] > size;
    panel[1].forEach(blob => {
      inner.append("path").attr("d", lineClosed(toXY(blob))).attr("fill", "#000");
    });
    panel[0].forEach(contour => {
      const xy = toXY(contour);
      const shape = outside(xy[0]) ? lineOpen : lineClosed;
      inner.append("path").attr("d", shape(xy))
        .attr("fill", "none").attr("stroke", "#000").attr("stroke-width", 2.08);
    });
    drawTruth(inner, r, c);
    drawAxes(g, r, c);
  });
});

// axis names and exponents
names.forEach((name, i) => {
  svg.append("text").attr("x", marginLeft + i * step + size / 2).attr("y", 2411)
    .attr("text-anchor", "middle").attr("font-size", 13.9).text(name);
  if (i > 0) {
    svg.append("text").attr("font-size", 13.9).attr("text-anchor", "middle")
      .attr("transform", `translate(36, ${marginTop + i * step + size / 2}) rotate(-90)`).text(name);
  }
  if (yOffsetText[i]) {
    svg.append("text").attr("x", marginLeft).attr("y", marginTop + i * step - 4)
      .attr("font-size", 13.9).text(yOffsetText[i]);
  }
  if (xOffsetText[i]) {
    svg.append("text").attr("x", marginLeft + i * step + size).attr("y", xOffsetText[i][1])
      .attr("text-anchor", "end").attr("font-size", 13.9).text(xOffsetText[i][0]);
  }
});
</script>
</body>
</html>
